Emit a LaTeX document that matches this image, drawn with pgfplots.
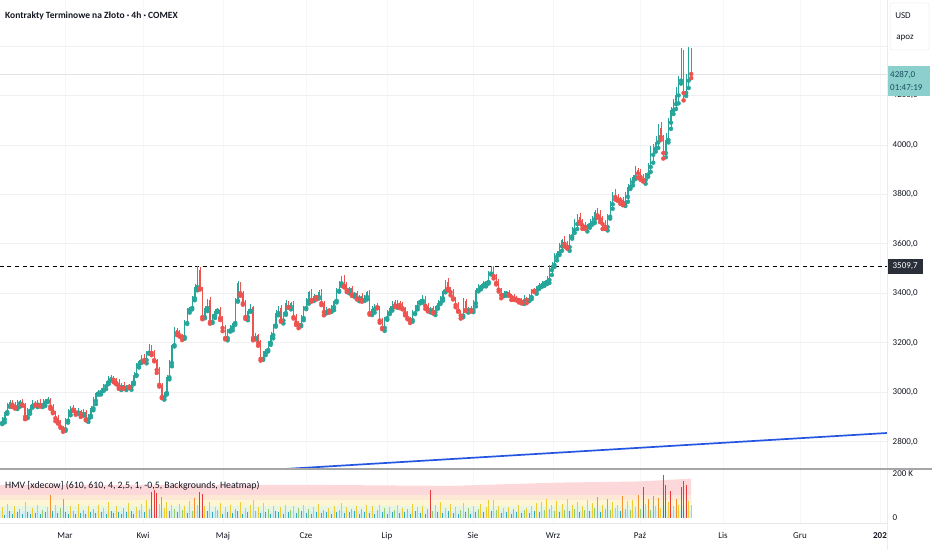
\documentclass[border=0pt]{standalone}
\usepackage{pgfplots}
\pgfplotsset{compat=1.18}
\usepackage{pgfplotstable}
\usepackage{fontspec}
\setmainfont{Carlito}
\definecolor{upc}{RGB}{38,166,154}
\definecolor{dnc}{RGB}{239,83,80}
\definecolor{txt}{RGB}{19,23,34}
\definecolor{gridc}{RGB}{238,240,244}
\definecolor{vgridc}{RGB}{246,247,249}
\definecolor{blueline}{RGB}{36,86,226}
\definecolor{lastc}{RGB}{140,208,206}
\definecolor{lasttxt}{RGB}{24,78,92}
\definecolor{darkbox}{RGB}{42,46,57}
\definecolor{vteal}{RGB}{52,172,184}
\definecolor{vgreen}{RGB}{150,204,110}
\definecolor{vyellow}{RGB}{240,204,50}
\definecolor{vorange}{RGB}{245,145,45}
\definecolor{vred}{RGB}{232,60,60}
\definecolor{bpink}{RGB}{252,216,218}
\definecolor{bpeach}{RGB}{253,232,214}
\definecolor{byellow}{RGB}{253,245,212}
\definecolor{bgreen}{RGB}{230,245,228}
\definecolor{bteal}{RGB}{216,240,242}

% one row per day: open high low close volume(K)
\pgfplotstableread{
o h l c v
2865 2882 2856 2876 22
2876 2900 2871 2890 48
2890 2924 2878 2920 15
2920 2957 2913 2945 62
2945 2970 2941 2962 30
2962 2967 2940 2950 18
2950 2959 2934 2940 55
2940 2969 2932 2955 25
2955 2970 2942 2963 40
2963 2974 2945 2950 20
2950 2956 2891 2900 70
2900 2935 2895 2925 28
2925 2949 2913 2945 16
2945 2969 2938 2957 45
2957 2965 2946 2950 24
2950 2967 2940 2962 58
2962 2971 2942 2948 19
2948 2972 2940 2958 35
2958 2972 2945 2965 26
2965 2980 2960 2969 50
2969 2975 2933 2942 104
2942 2952 2915 2920 30
2920 2924 2883 2895 60
2895 2907 2873 2880 22
2880 2888 2856 2860 44
2860 2865 2840 2850 85
2850 2894 2844 2885 27
2885 2934 2877 2920 18
2920 2943 2907 2936 52
2936 2947 2925 2930 33
2930 2936 2909 2918 20
2918 2935 2913 2925 65
2925 2929 2900 2912 24
2912 2932 2905 2920 38
2920 2928 2886 2890 17
2890 2910 2880 2905 56
2905 2944 2899 2935 29
2935 2979 2927 2965 42
2965 3002 2952 2995 21
2995 3011 2990 3000 60
3000 3016 2991 3010 26
3010 3035 3005 3025 47
3025 3044 3013 3040 19
3040 3064 3033 3052 72
3052 3070 3048 3062 31
3062 3067 3040 3050 23
3050 3059 3032 3038 55
3038 3052 3014 3022 28
3022 3037 3009 3030 16
3030 3041 3013 3018 44
3018 3031 3009 3025 25
3025 3035 3017 3022 68
3022 3044 3010 3040 30
3040 3082 3033 3070 20
3070 3118 3066 3110 50
3110 3130 3100 3125 35
3125 3149 3119 3140 62
3140 3154 3122 3130 26
3130 3167 3117 3160 80
3160 3194 3155 3183 40
3183 3189 3150 3159 118
3159 3169 3125 3130 126
3130 3134 3078 3090 112
3090 3102 3023 3030 65
3030 3038 2976 2980 95
2980 3002 2970 2997 45
2997 3069 2991 3060 70
3060 3132 3052 3118 30
3118 3197 3105 3190 58
3190 3263 3185 3252 40
3252 3258 3231 3240 28
3240 3250 3225 3230 62
3230 3234 3211 3223 35
3223 3292 3216 3280 52
3280 3340 3276 3332 24
3332 3346 3322 3341 75
3341 3389 3335 3380 33
3380 3439 3372 3425 90
3425 3510 3412 3495 60
3495 3506 3415 3420 118
3420 3426 3295 3304 110
3304 3350 3299 3340 55
3340 3377 3328 3373 30
3373 3385 3277 3284 72
3284 3318 3280 3310 25
3310 3335 3300 3330 48
3330 3341 3324 3332 36
3332 3346 3292 3300 66
3300 3307 3247 3260 20
3260 3271 3214 3219 50
3219 3256 3210 3250 27
3250 3272 3245 3262 58
3262 3284 3250 3280 22
3280 3382 3273 3370 40
3370 3450 3366 3442 30
3442 3447 3390 3400 70
3400 3409 3354 3360 18
3360 3374 3296 3304 45
3304 3337 3291 3330 28
3330 3355 3325 3344 60
3344 3350 3210 3219 80
3219 3240 3214 3230 32
3230 3234 3188 3200 50
3200 3212 3128 3135 24
3135 3168 3131 3160 66
3160 3176 3150 3171 29
3171 3209 3165 3200 42
3200 3245 3192 3231 20
3231 3277 3218 3270 55
3270 3331 3265 3320 31
3320 3347 3311 3341 26
3341 3351 3285 3290 48
3290 3324 3278 3320 18
3320 3373 3313 3361 60
3361 3369 3341 3345 25
3345 3366 3335 3361 36
3361 3370 3298 3304 52
3304 3318 3272 3280 22
3280 3287 3259 3272 44
3272 3311 3267 3300 30
3300 3347 3291 3341 58
3341 3380 3336 3370 24
3370 3409 3358 3405 40
3405 3417 3366 3373 17
3373 3398 3369 3390 50
3390 3395 3375 3385 28
3385 3414 3379 3405 62
3405 3419 3352 3360 21
3360 3367 3311 3324 38
3324 3346 3319 3335 26
3335 3341 3321 3330 45
3330 3354 3325 3344 19
3344 3374 3332 3370 55
3370 3422 3363 3410 27
3410 3448 3406 3440 34
3440 3471 3430 3466 68
3466 3475 3424 3430 22
3430 3444 3405 3413 48
3413 3427 3400 3420 25
3420 3431 3390 3395 40
3395 3407 3386 3401 30
3401 3411 3375 3380 52
3380 3394 3368 3390 18
3390 3402 3366 3373 42
3373 3393 3369 3385 26
3385 3410 3375 3405 58
3405 3414 3314 3320 24
3320 3349 3312 3335 56
3335 3357 3322 3350 20
3350 3361 3339 3344 38
3344 3350 3281 3290 60
3290 3300 3255 3260 28
3260 3304 3248 3300 44
3300 3332 3293 3320 19
3320 3348 3316 3340 50
3340 3370 3330 3365 25
3365 3374 3344 3350 36
3350 3374 3342 3360 58
3360 3367 3340 3353 22
3353 3364 3335 3340 46
3340 3346 3311 3320 27
3320 3330 3295 3300 40
3300 3304 3280 3292 18
3292 3332 3285 3320 62
3320 3353 3316 3345 30
3345 3370 3335 3365 48
3365 3379 3359 3370 24
3370 3395 3362 3381 55
3381 3388 3337 3350 20
3350 3361 3327 3332 42
3332 3346 3323 3340 126
3340 3350 3319 3324 32
3324 3349 3312 3345 58
3345 3373 3338 3361 26
3361 3388 3357 3380 70
3380 3415 3370 3410 22
3410 3455 3404 3446 46
3446 3460 3412 3420 30
3420 3427 3392 3405 64
3405 3416 3375 3380 24
3380 3386 3344 3353 50
3353 3363 3325 3330 20
3330 3334 3298 3310 38
3310 3382 3303 3370 66
3370 3378 3328 3332 27
3332 3345 3322 3340 44
3340 3349 3326 3332 18
3332 3374 3324 3360 56
3360 3420 3347 3413 29
3413 3436 3408 3425 40
3425 3439 3416 3433 62
3433 3450 3428 3440 25
3440 3450 3428 3446 48
3446 3492 3439 3480 80
3480 3512 3476 3505 30
3505 3510 3460 3470 82
3470 3479 3436 3442 35
3442 3456 3407 3415 55
3415 3422 3380 3393 22
3393 3411 3388 3400 45
3400 3411 3391 3405 28
3405 3415 3390 3395 50
3395 3399 3373 3385 19
3385 3397 3373 3380 40
3380 3388 3371 3375 26
3375 3380 3363 3373 58
3373 3382 3359 3365 23
3365 3392 3357 3378 36
3378 3385 3360 3373 47
3373 3396 3368 3385 21
3385 3419 3376 3413 55
3413 3423 3405 3410 30
3410 3429 3398 3425 66
3425 3442 3418 3430 26
3430 3448 3426 3440 72
3440 3451 3430 3446 35
3446 3468 3437 3454 84
3454 3515 3442 3494 40
3494 3526 3474 3515 60
3515 3564 3507 3547 32
3547 3572 3533 3563 78
3563 3605 3555 3590 28
3590 3621 3572 3615 64
3615 3633 3589 3600 36
3600 3612 3581 3587 84
3587 3638 3572 3630 30
3630 3670 3621 3656 58
3656 3701 3644 3680 42
3680 3720 3660 3709 70
3709 3726 3682 3690 26
3690 3699 3661 3675 55
3675 3690 3660 3668 38
3668 3682 3650 3676 82
3676 3702 3665 3684 30
3684 3712 3678 3700 66
3700 3737 3685 3729 44
3729 3743 3706 3715 95
3715 3736 3688 3700 28
3700 3711 3660 3680 60
3680 3697 3660 3668 40
3668 3719 3654 3710 88
3710 3775 3702 3760 34
3760 3811 3742 3805 72
3805 3823 3779 3790 46
3790 3802 3774 3780 60
3780 3788 3762 3777 30
3777 3791 3756 3765 98
3765 3811 3753 3790 42
3790 3841 3770 3830 75
3830 3867 3822 3850 36
3850 3879 3836 3870 80
3870 3914 3862 3899 48
3899 3905 3867 3885 105
3885 3903 3859 3870 40
3870 3882 3852 3858 140
3858 3888 3843 3880 62
3880 3925 3871 3911 85
3911 3995 3891 3960 38
3960 4002 3928 3985 100
3985 4037 3973 4010 55
4010 4083 3988 4068 90
4068 4093 4020 4032 45
4032 4042 3945 3967 195
3967 4050 3950 4020 150
4020 4110 4010 4090 70
4090 4152 4065 4140 120
4140 4187 4125 4165 52
4165 4235 4145 4200 88
4200 4277 4168 4260 60
4260 4390 4248 4370 140
4370 4385 4180 4210 165
4210 4285 4198 4260 150
4260 4395 4230 4380 75
4380 4392 4270 4287 60
}\candles

\tikzset{
  tvlabel/.style={font=\fontsize{9}{10}\selectfont, text=txt},
}

\begin{document}
\begin{tikzpicture}[x=1pt,y=1pt]
\path[use as bounding box, fill=white] (0,0) rectangle (932,550);

% ---------------- price pane ----------------
\begin{axis}[
  at={(0pt,81.5pt)}, anchor=south west,
  scale only axis, width=887.5pt, height=468.5pt,
  xmin=0, xmax=887.5, ymin=2691.6, ymax=4586,
  axis line style={draw=none},
  major tick length=0pt,
  xtick={65,143,223,306,387,473,553,640,723,800,880},
  xticklabels={},
  ytick={2800,3000,3200,3400,3600,3800,4000,4200},
  extra y ticks={4400}, extra y tick labels={},
  extra y tick style={grid=major},
  xmajorgrids, ymajorgrids,
  x grid style={draw=vgridc, line width=0.6pt},
  y grid style={draw=gridc, line width=0.8pt},
  scaled y ticks=false,
  yticklabel pos=right,
  yticklabel={\pgfmathprintnumber[assume math mode=true, use comma, fixed, fixed zerofill, precision=1, 1000 sep={}]{\tick}},
  yticklabel style={anchor=west, xshift=5pt, inner sep=0pt, tvlabel},
]
% last price line and horizontal level
\addplot[draw=gray!22, line width=0.6pt] coordinates {(0,4287) (887.5,4287)};
\addplot[draw=black, line width=0.9pt, dash pattern=on 4pt off 3.5pt] coordinates {(0,3509.7) (887.5,3509.7)};
% trend line
\addplot[draw=blueline, line width=1.7pt] coordinates {(270,2686.0) (900,2838.3)};
% up candles: wicks and bodies
\addplot[only marks, mark=none, color=upc,
  restrict expr to domain={\thisrow{c}-\thisrow{o}}{0:100000},
  error bars/.cd, y dir=plus, y explicit, error mark=none,
  error bar style={line width=0.45pt, draw=upc}]
  table[x expr=2.533*\coordindex-0.3, y=l, y error expr=\thisrow{h}-\thisrow{l}] {\candles};
\addplot[only marks, mark=none, color=upc,
  restrict expr to domain={\thisrow{c}-\thisrow{o}}{0:100000},
  error bars/.cd, y dir=plus, y explicit, error mark=none,
  error bar style={line width=1.15pt, draw=upc}]
  table[x expr=2.533*\coordindex-0.3, y=o, y error expr=\thisrow{c}-\thisrow{o}] {\candles};
% down candles
\addplot[only marks, mark=none, color=dnc,
  restrict expr to domain={\thisrow{c}-\thisrow{o}}{-100000:-0.5},
  error bars/.cd, y dir=plus, y explicit, error mark=none,
  error bar style={line width=0.45pt, draw=dnc}]
  table[x expr=2.533*\coordindex-0.3, y=l, y error expr=\thisrow{h}-\thisrow{l}] {\candles};
\addplot[only marks, mark=none, color=dnc,
  restrict expr to domain={\thisrow{c}-\thisrow{o}}{-100000:-0.5},
  error bars/.cd, y dir=plus, y explicit, error mark=none,
  error bar style={line width=1.15pt, draw=dnc}]
  table[x expr=2.533*\coordindex-0.3, y=c, y error expr=\thisrow{o}-\thisrow{c}] {\candles};
\end{axis}

% ---------------- volume pane ----------------
\begin{axis}[
  at={(0pt,27pt)}, anchor=south west,
  scale only axis, width=887.5pt, height=53.5pt,
  xmin=0, xmax=887.5, ymin=-22.6, ymax=219,
  axis line style={draw=none},
  major tick length=0pt,
  xtick={65,143,223,306,387,473,553,640,723,800,880},
  xticklabels={Mar,Kwi,Maj,Cze,Lip,Sie,Wrz,Paź,Lis,Gru,\textbf{202}},
  xticklabel style={anchor=base, yshift=-15.5pt, tvlabel},
  xmajorgrids, x grid style={draw=vgridc, line width=0.6pt},
  ytick={0,200}, yticklabels={0,200 K},
  yticklabel pos=right,
  yticklabel style={anchor=west, xshift=5pt, inner sep=0pt, tvlabel},
]
% heatmap background bands
\addplot[fill=bpink, draw=none] coordinates {(-0.3,150) (300,150) (450,145) (560,160) (640,165) (691,178)} \closedcycle;
\addplot[fill=bpeach, draw=none] coordinates {(-0.3,104) (691,104)} \closedcycle;
\addplot[fill=byellow, draw=none] coordinates {(-0.3,80) (691,80)} \closedcycle;
\addplot[fill=bgreen, draw=none] coordinates {(-0.3,55) (691,55)} \closedcycle;
\addplot[fill=bteal, draw=none] coordinates {(-0.3,30) (691,30)} \closedcycle;
% volume bars by heat level
\addplot[ycomb, draw=vteal, line width=1pt, restrict y to domain=0:31.9]
  table[x expr=2.533*\coordindex-0.3, y=v] {\candles};
\addplot[ycomb, draw=vgreen, line width=1pt, restrict y to domain=32:44.9]
  table[x expr=2.533*\coordindex-0.3, y=v] {\candles};
\addplot[ycomb, draw=vyellow, line width=1pt, restrict y to domain=45:84.9]
  table[x expr=2.533*\coordindex-0.3, y=v] {\candles};
\addplot[ycomb, draw=vorange, line width=1pt, restrict y to domain=85:109.9]
  table[x expr=2.533*\coordindex-0.3, y=v] {\candles};
\addplot[ycomb, draw=vred, line width=1pt, restrict y to domain=110:1000]
  table[x expr=2.533*\coordindex-0.3, y=v] {\candles};
\end{axis}

% ---------------- frame, labels ----------------
\draw[draw=gray!15, line width=0.6pt] (887.5,0) -- (887.5,550);
\draw[draw=gray!18, line width=0.6pt] (0,27) -- (887.5,27);
\draw[draw=gray!70, line width=1.2pt] (0,81) -- (932,81);

\node[anchor=west, inner sep=0pt, font=\bfseries\fontsize{9.5}{11}\selectfont, text=txt] at (5,534) {Kontrakty Terminowe na Złoto · 4h · COMEX};
\node[anchor=west, inner sep=0pt, font=\fontsize{9.8}{11}\selectfont, text=txt] at (5,64) {HMV [xdecow] (610, 610, 4, 2,5, 1, -0,5, Backgrounds, Heatmap)};

\draw[draw=gray!15, line width=0.5pt, rounded corners=2pt] (890,547) rectangle (929,500);
\node[inner sep=0pt, tvlabel] at (903,534) {USD};
\node[inner sep=0pt, tvlabel] at (905,512) {apoz};

\fill[lastc] (888,483.5) rectangle (929.5,454);
\node[anchor=west, inner sep=0pt, font=\fontsize{9}{10}\selectfont, text=lasttxt] at (890,475) {4287,0};
\node[anchor=west, inner sep=0pt, font=\fontsize{9}{10}\selectfont, text=lasttxt] at (890,462) {01:47:19};

\fill[darkbox] (888,290.7) rectangle (922.5,276.5);
\node[inner sep=0pt, font=\fontsize{9}{10}\selectfont, text=white] at (905.2,283.6) {3509,7};
\end{tikzpicture}
\end{document}
